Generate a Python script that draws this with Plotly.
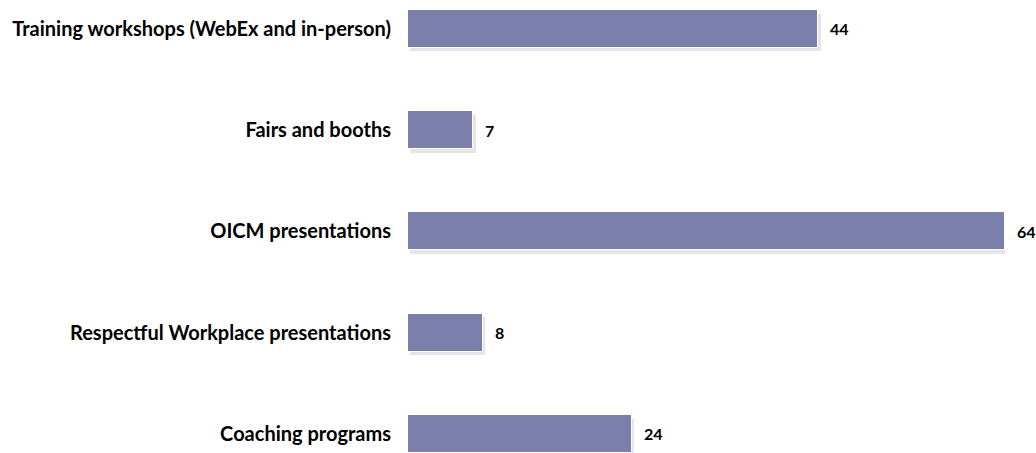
import plotly.graph_objects as go

categories = [
    "Training workshops (WebEx and in-person)",
    "Fairs and booths",
    "OICM presentations",
    "Respectful Workplace presentations",
    "Coaching programs",
]
values = [44, 7, 64, 8, 24]

bar_color = "#7a80a9"
positions = list(range(len(categories)))
bar_w = 0.375

fig = go.Figure()

# soft drop shadow behind each bar
fig.add_trace(go.Bar(
    x=values, y=positions, base=0.25, orientation="h",
    width=bar_w, offset=-bar_w / 2 + 0.035,
    marker=dict(color="rgba(0,0,0,0.10)", line=dict(width=0)),
    hoverinfo="skip", showlegend=False,
))

fig.add_trace(go.Bar(
    x=values, y=positions, orientation="h",
    width=bar_w,
    marker=dict(color=bar_color, line=dict(color="white", width=1)),
    showlegend=False,
))

for v, p in zip(values, positions):
    fig.add_annotation(
        x=v, y=p, text=f"<b>{v}</b>", showarrow=False,
        xanchor="left", xshift=10,
        font=dict(family="Lato, Open Sans, sans-serif", size=16, color="#000"),
    )

fig.update_layout(
    width=1036, height=453,
    margin=dict(l=408, r=31, t=0, b=0),
    plot_bgcolor="white", paper_bgcolor="white",
    bargap=0,
    font=dict(family="Lato, Open Sans, sans-serif", size=20, color="#000"),
)
fig.update_xaxes(range=[0, 64], visible=False)
fig.update_yaxes(
    range=[4.188, -0.286],
    tickvals=positions,
    ticktext=[f"<b>{c}</b>" for c in categories],
    showgrid=False, zeroline=False, showline=False, ticks="",
    ticklabelstandoff=16,
)

fig.write_html("out.html")
